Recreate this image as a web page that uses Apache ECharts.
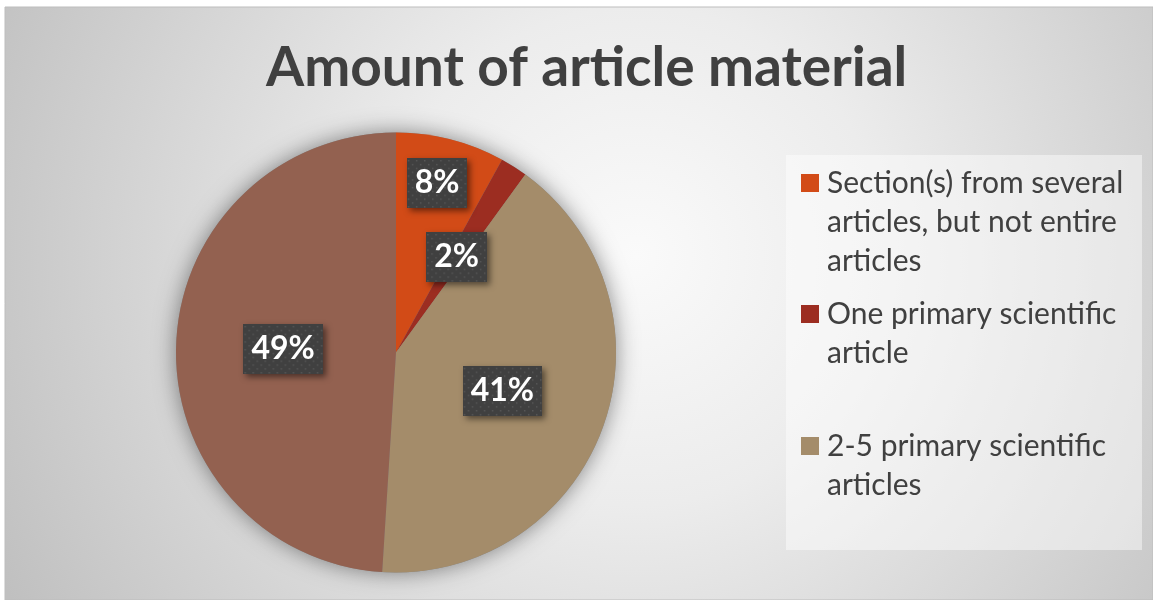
<!DOCTYPE html>
<html><head><meta charset="utf-8">
<script src="https://cdn.jsdelivr.net/npm/echarts@6/dist/echarts.min.js"></script>
<style>html,body{margin:0;padding:0;background:#fff;}#c{width:1153px;height:600px;}</style>
</head><body><div id="c"></div>
<script>
// ---- data ----
const titleText = 'Amount of article material';
const categories = [
  'Section(s) from several articles, but not entire articles',
  'One primary scientific article',
  '2-5 primary scientific articles',
  'Other'
];
const values = [8, 2, 41, 49];
const legendLines = [
  ['Section(s) from several', 'articles, but not entire', 'articles'],
  ['One primary scientific', 'article'],
  ['2-5 primary scientific', 'articles']
];
const colors = ['#D24B17', '#9C2D21', '#A48C6A', '#936150'];

// ---- dotted label background ----
function dotted(w, h) {
  const c = document.createElement('canvas');
  c.width = w; c.height = h;
  const g = c.getContext('2d');
  g.fillStyle = '#404040'; g.fillRect(0, 0, w, h);
  g.fillStyle = '#575757';
  for (let y = 2, r = 0; y < h; y += 4, r++) {
    for (let x = (r % 2 ? 4 : 0) + 1; x < w; x += 8) g.fillRect(x, y, 1.5, 1.5);
  }
  return c;
}
const bgSmall = dotted(60, 52);
const bgWide = dotted(79, 52);

const chart = echarts.init(document.getElementById('c'));

const legends = legendLines.map((lines, i) => {
  const h = lines.length * 39;
  return {
    data: [categories[i]],
    orient: 'vertical',
    left: 801,
    top: [163.5, 294.5, 426.5][i],
    padding: 0,
    itemWidth: 21,
    itemHeight: h,
    icon: 'path://M0,0M0,10.5h18v18h-18zM21,' + h,
    formatter: () => lines.join('\n'),
    textStyle: { fontFamily: 'Lato', fontSize: 30, lineHeight: 39, color: '#404040' },
    selectedMode: false
  };
});

chart.setOption({
  animation: false,
  color: colors,
  graphic: [
    { type: 'rect', z: -10, silent: true, shape: { x: 5, y: 7, width: 1148, height: 593 },
      style: { fill: new echarts.graphic.RadialGradient(0.55, 0.42, 1.2, [
        { offset: 0, color: '#fafafa' }, { offset: 0.35, color: '#ececec' }, { offset: 1, color: '#c0c0c0' }]),
        stroke: '#bdbdbd', lineWidth: 1 } },
    { type: 'rect', z: -9, silent: true, shape: { x: 786, y: 155, width: 356, height: 395 },
      style: { fill: 'rgba(255,255,255,0.45)' } }
  ],
  title: {
    text: titleText, left: 261, top: 36,
    textStyle: { fontFamily: 'Lato', fontWeight: 'bold', fontSize: 55, color: '#404040' }
  },
  legend: legends,
  series: [
    { type: 'pie', silent: true, center: [396, 352.5], radius: 220, startAngle: 90,
      data: [{ value: 1, name: '' }], label: { show: false }, labelLine: { show: false },
      itemStyle: { color: '#888', shadowBlur: 22, shadowColor: 'rgba(0,0,0,0.45)' }, z: 1 },
    { type: 'pie', center: [396, 352.5], radius: 220, startAngle: 90, clockwise: true, z: 2,
      data: categories.map((n, i) => ({ name: n, value: values[i],
        label: { backgroundColor: { image: values[i] >= 10 ? bgWide : bgSmall } } })),
      itemStyle: { borderWidth: 0 },
      label: {
        show: true, position: 'inside', formatter: '{c}%',
        fontFamily: 'Lato', fontWeight: 'bold', fontSize: 32, color: '#fff',
        padding: [10, 8, 8, 8],
        shadowColor: 'rgba(0,0,0,0.5)', shadowBlur: 6, shadowOffsetX: 3, shadowOffsetY: 3
      },
      labelLayout: p => p.dataIndex === 0 ? { dx: 13, dy: -60 } : {},
      labelLine: { show: false }
    }
  ]
});
</script></body></html>
